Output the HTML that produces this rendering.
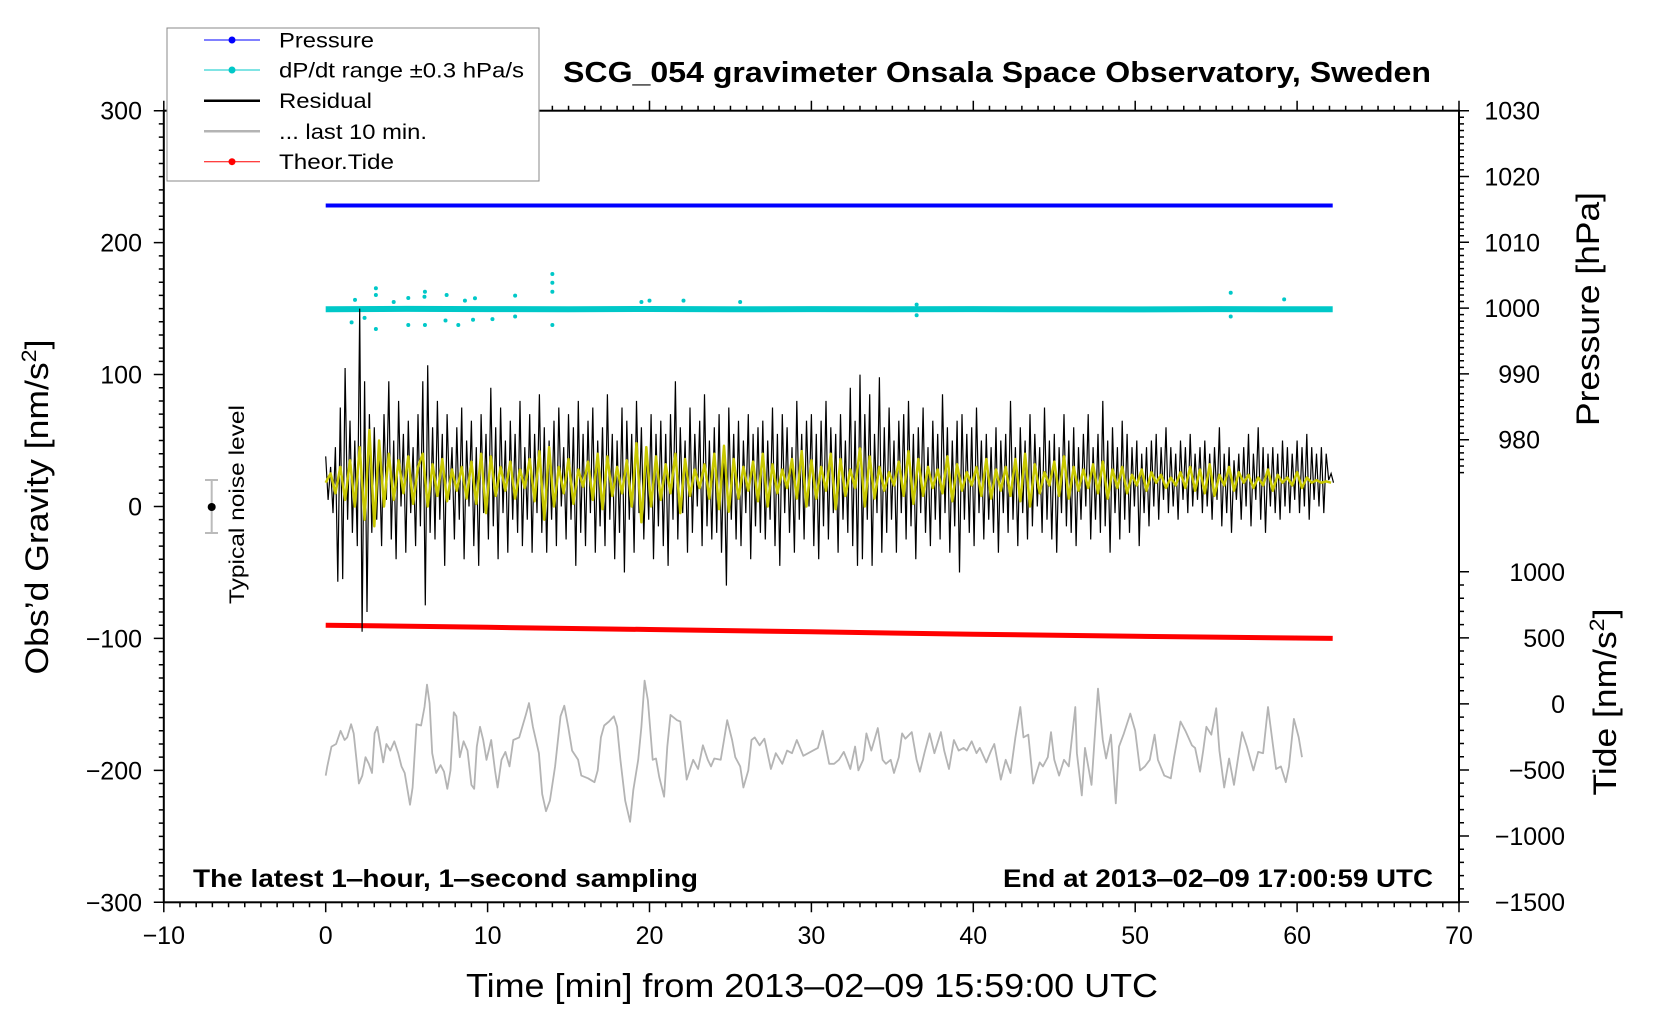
<!DOCTYPE html>
<html><head><meta charset="utf-8"><title>SCG_054 gravimeter</title>
<style>
html,body{margin:0;padding:0;background:#fff;}
svg{display:block;font-family:"Liberation Sans",Arial,sans-serif;}
</style></head>
<body>
<svg id="chart" width="1660" height="1020" viewBox="0 0 1660 1020" xmlns="http://www.w3.org/2000/svg">
<rect x="0" y="0" width="1660" height="1020" fill="#fff"/>
<g id="series"></g>
<g id="axes"></g>
<rect x="163.8" y="110.7" width="1295.2" height="791.6" fill="none" stroke="#000" stroke-width="2"/>
<g>
<rect x="167" y="28" width="372" height="153" fill="#fff" stroke="#888" stroke-width="1"/>
<g><line x1="204" y1="40" x2="260" y2="40" stroke="#0000ff" stroke-width="1"/><circle cx="232" cy="40" r="3.5" fill="#0000ff"/><text x="279" y="47.5" font-size="21" textLength="95" lengthAdjust="spacingAndGlyphs">Pressure</text></g>
<g><line x1="204" y1="70" x2="260" y2="70" stroke="#00c8c8" stroke-width="1"/><circle cx="232" cy="70" r="3.5" fill="#00c8c8"/><text x="279" y="77.5" font-size="21" textLength="245" lengthAdjust="spacingAndGlyphs">dP/dt range ±0.3 hPa/s</text></g>
<g><line x1="204" y1="100.7" x2="260" y2="100.7" stroke="#000" stroke-width="2.5"/><text x="279" y="108.2" font-size="21" textLength="93" lengthAdjust="spacingAndGlyphs">Residual</text></g>
<g><line x1="204" y1="131.3" x2="260" y2="131.3" stroke="#b4b4b4" stroke-width="2.5"/><text x="279" y="138.8" font-size="21" textLength="148" lengthAdjust="spacingAndGlyphs">... last 10 min.</text></g>
<g><line x1="204" y1="161.7" x2="260" y2="161.7" stroke="#ff0000" stroke-width="1"/><circle cx="232" cy="161.7" r="3.5" fill="#ff0000"/><text x="279" y="169.2" font-size="21" textLength="115" lengthAdjust="spacingAndGlyphs">Theor.Tide</text></g>
</g>
<text x="563" y="82" font-size="29" font-weight="bold" textLength="868" lengthAdjust="spacingAndGlyphs">SCG_054 gravimeter Onsala Space Observatory, Sweden</text>
<text x="193" y="887" font-size="25" font-weight="bold" textLength="505" lengthAdjust="spacingAndGlyphs">The latest 1‒hour, 1‒second sampling</text>
<text x="1003" y="887" font-size="25" font-weight="bold" textLength="430" lengthAdjust="spacingAndGlyphs">End at 2013‒02‒09 17:00:59 UTC</text>
<text x="466" y="997" font-size="33" textLength="692" lengthAdjust="spacingAndGlyphs">Time [min] from 2013‒02‒09 15:59:00 UTC</text>
<text transform="translate(48,507) rotate(-90)" text-anchor="middle" font-size="32" textLength="335" lengthAdjust="spacingAndGlyphs">Obs’d Gravity [nm/s<tspan dy="-12" font-size="21">2</tspan><tspan dy="12">]</tspan></text>
<text transform="translate(1599,309) rotate(-90)" text-anchor="middle" font-size="32" textLength="234" lengthAdjust="spacingAndGlyphs">Pressure [hPa]</text>
<text transform="translate(1616,702) rotate(-90)" text-anchor="middle" font-size="32" textLength="187" lengthAdjust="spacingAndGlyphs">Tide [nm/s<tspan dy="-12" font-size="21">2</tspan><tspan dy="12">]</tspan></text>
<g>
<line x1="211.7" y1="480" x2="211.7" y2="533" stroke="#bbb" stroke-width="2"/>
<line x1="205" y1="480" x2="218" y2="480" stroke="#bbb" stroke-width="2"/>
<line x1="205" y1="533" x2="218" y2="533" stroke="#bbb" stroke-width="2"/>
<circle cx="211.7" cy="507" r="4" fill="#000"/>
<text transform="translate(244,504.5) rotate(-90)" text-anchor="middle" font-size="21" textLength="199" lengthAdjust="spacingAndGlyphs">Typical noise level</text>
</g>
</svg>
<script>
// ---- data ----
const pressureTimes = [0, 62.2];
const pressureValues = [1015.6, 1015.6];
const tideTimes = [0, 10, 20, 30, 40, 50, 62.2];
const tideValues = [596, 580, 563, 546, 528, 512, 496];
const dpdtBandTimes = [0, 5, 10, 15, 20, 25, 30, 35, 40, 45, 50, 55, 62.2];
const dpdtBandValues = [149.5, 149.8, 149.6, 149.5, 149.7, 149.5, 149.6, 149.5, 149.6, 149.5, 149.4, 149.6, 149.5];
const dpdtOutlierTimes = [14.0, 14.0, 14.0, 14.0, 3.1, 3.1, 6.13, 6.1, 7.47, 9.22, 11.7, 5.1, 1.81, 3.1, 5.1, 6.13, 8.19, 1.6, 7.4, 22.1, 25.6, 19.5, 20.0, 11.7, 9.1, 55.9, 55.9, 59.2, 36.5, 36.5, 2.4, 4.2, 8.6, 10.3];
const dpdtOutlierValues = [176.2, 169.6, 162.8, 137.6, 165.4, 160.3, 162.8, 159, 160.3, 157.8, 159.8, 158, 156.6, 134.5, 137.6, 137.6, 137.6, 139.6, 141, 156, 155, 155, 156, 144, 141.5, 162, 144, 157, 153, 145, 143, 155, 156, 142];
const residualStep = 0.15;
const residualValues = [
38,5,30,-5,45,-57,75,-55,105,-10,65,-20,50,-30,150,-95,95,-80,70,-20,
60,-10,45,-30,70,5,95,-25,50,-40,80,0,55,-35,65,-5,45,-30,70,-15,
95,-75,107,-20,60,-25,80,-10,55,-45,70,5,45,-25,60,-10,75,-40,50,0,
65,-30,45,-45,70,-5,55,-25,90,-15,60,-40,75,-5,50,-35,65,-10,55,-20,
80,-30,45,-10,70,-35,55,-5,85,-20,60,-35,50,-10,65,-30,75,0,45,-25,
70,-10,60,-45,80,-20,55,-30,65,-5,75,-35,50,-15,60,-30,85,-10,55,-40,
50,-20,75,-50,65,-10,55,-35,80,-5,60,-25,45,-10,70,-40,55,-15,65,-30,
55,-45,70,-10,95,-25,60,-5,50,-35,75,-20,55,0,65,-30,85,-15,50,-25,
60,-20,70,-35,45,-60,75,-10,55,-25,65,-30,50,-5,70,-40,55,-15,60,-20,
65,-25,50,-10,75,-30,55,-45,70,-5,60,-20,45,-35,80,-10,55,-25,65,0,
70,-30,55,-40,65,-15,80,-25,60,-5,55,-35,70,-10,50,-20,90,-30,65,-45,
100,-40,70,-10,85,-45,55,-5,98,-35,60,-20,75,-10,50,-35,65,-5,70,-25,
80,-15,55,-40,60,-5,75,-20,45,-30,65,-10,55,-25,85,-5,60,-35,50,-15,
65,-50,70,-10,55,-20,60,-30,75,-5,50,-25,55,-10,45,-20,60,-35,50,-5,
55,-20,80,-10,45,-30,60,-5,50,-25,70,-15,55,0,45,-20,75,-10,50,-25,
55,-35,45,-5,70,-15,50,-20,60,-30,45,-10,55,0,70,-25,45,-10,55,-20,
80,-15,50,-35,60,-5,45,-25,65,-10,55,-20,45,0,50,-30,40,-5,45,-15,
50,0,55,-10,45,5,60,-5,45,0,40,-10,50,5,45,-5,55,0,40,5,
45,-5,50,0,40,-10,45,5,60,-15,40,-5,45,-20,35,5,40,-10,45,0,
55,-15,40,5,60,-10,45,-20,40,0,45,-5,40,-10,50,0,45,-5,40,5,
50,-5,45,0,55,-10,45,5,40,0,45,-5,40,20,25,18];
const smoothStep = 0.3;
const smoothValues = [
18,25,10,30,5,35,0,45,-10,58,-15,50,0,40,5,35,10,38,2,30,
40,0,32,8,36,4,28,12,30,6,34,2,40,-5,38,8,30,12,34,6,
28,14,36,4,42,-10,45,0,30,10,36,2,28,15,34,5,40,-2,38,8,
30,10,35,0,48,-12,45,0,38,5,32,10,40,-5,36,8,28,14,32,6,
40,-2,46,-4,36,6,30,12,34,4,40,0,32,10,28,14,36,6,42,0,
35,6,30,12,40,-2,36,8,28,14,44,0,38,6,30,12,26,16,34,8,
42,2,36,8,30,14,28,10,38,4,32,12,26,16,30,8,36,6,28,12,
30,8,36,4,40,0,32,10,26,16,34,8,38,6,30,12,28,14,32,10,
34,6,28,14,30,10,24,16,28,12,26,18,24,14,22,16,26,14,30,12,
28,10,32,8,24,16,30,12,26,18,24,14,22,16,28,12,24,18,22,16,
26,14,22,18,20,18,19,18];
const last10Times = [0.0,0.1,0.36,0.64,0.92,1.17,1.33,1.57,1.73,1.93,2.05,2.26,2.46,2.66,2.86,3.02,3.19,3.39,3.55,3.75,3.99,4.24,4.48,4.68,4.88,5.21,5.37,5.61,5.89,6.1,6.26,6.42,6.58,6.82,7.1,7.31,7.51,7.71,7.91,8.07,8.28,8.52,8.76,9.0,9.17,9.33,9.53,9.73,9.93,10.22,10.46,10.62,10.86,11.1,11.35,11.59,11.95,12.36,12.56,12.8,13.17,13.37,13.61,13.85,14.17,14.5,14.74,14.98,15.22,15.59,15.79,16.2,16.6,16.8,17.0,17.2,17.5,17.8,18.0,18.2,18.5,18.8,19.0,19.3,19.5,19.7,19.9,20.2,20.4,20.6,20.9,21.1,21.3,21.7,21.9,22.1,22.3,22.7,23.0,23.3,23.6,23.8,24.0,24.4,24.6,24.8,25.1,25.3,25.6,25.8,26.1,26.3,26.5,26.8,27.1,27.5,27.8,28.2,28.5,28.8,29.1,29.5,29.8,30.1,30.4,30.7,31.1,31.4,31.7,32.0,32.2,32.4,32.7,32.9,33.2,33.4,33.7,34.1,34.4,34.6,34.9,35.1,35.4,35.6,35.8,36.2,36.5,36.7,37.0,37.3,37.6,38.0,38.2,38.5,38.8,39.1,39.4,39.6,39.9,40.2,40.4,40.8,41.1,41.3,41.7,42.0,42.3,42.6,42.9,43.1,43.4,43.7,44.1,44.3,44.6,44.8,45.0,45.3,45.6,45.9,46.3,46.4,46.7,46.9,47.3,47.7,48.0,48.2,48.5,48.8,49.0,49.3,49.7,50.0,50.3,50.6,50.9,51.2,51.4,51.8,52.2,52.4,52.8,53.1,53.5,53.7,54.0,54.2,54.4,54.7,55.0,55.2,55.5,55.8,56.1,56.4,56.6,56.9,57.3,57.6,57.9,58.2,58.5,58.7,59.0,59.3,59.5,59.8,60.1,60.3];
const last10Values = [-204,-197,-182,-180,-170,-177,-175,-165,-172,-195,-210,-204,-190,-195,-202,-172,-167,-182,-194,-180,-185,-178,-187,-197,-202,-226,-213,-165,-166,-152,-135,-149,-187,-202,-196,-201,-214,-200,-156,-159,-190,-178,-185,-211,-214,-182,-167,-177,-192,-177,-200,-213,-192,-186,-197,-177,-175,-158,-149,-167,-187,-218,-231,-223,-197,-159,-151,-167,-185,-192,-204,-206,-209,-200,-175,-166,-163,-159,-167,-192,-223,-239,-215,-192,-167,-132,-147,-192,-191,-205,-220,-182,-158,-162,-163,-185,-207,-192,-199,-181,-192,-197,-191,-192,-177,-162,-177,-190,-197,-213,-200,-177,-175,-181,-176,-199,-187,-195,-185,-187,-177,-189,-187,-185,-183,-170,-195,-195,-192,-186,-192,-199,-182,-200,-192,-172,-185,-168,-192,-195,-192,-202,-190,-172,-176,-171,-192,-201,-186,-172,-187,-171,-185,-199,-177,-185,-183,-185,-178,-187,-183,-194,-185,-180,-207,-192,-202,-175,-152,-175,-173,-210,-194,-197,-190,-171,-192,-204,-192,-197,-152,-187,-219,-183,-211,-138,-177,-191,-173,-225,-182,-172,-157,-170,-200,-197,-192,-173,-192,-204,-206,-190,-163,-170,-181,-183,-201,-185,-167,-173,-153,-185,-213,-191,-211,-187,-171,-182,-200,-186,-187,-152,-180,-199,-197,-209,-197,-161,-175,-190];
const xTickLabels = ["−10","0","10","20","30","40","50","60","70"];
const gravityTickLabels = ["300","200","100","0","−100","−200","−300"];
const pressureTickLabels = ["1030","1020","1010","1000","990","980"];
const tideTickLabels = ["1000","500","0","−500","−1000","−1500"];

// ---- scales ----
const NS = "http://www.w3.org/2000/svg";
function xScale(t){ return 325.7 + 16.19 * t; }
function gScale(g){ return 110.7 + (300 - g) * 1.3193; }
function pScale(p){ return 110.7 + (1030 - p) * 6.58; }
function tideScale(v){ return 571.8 + (1000 - v) * 0.1321; }
function parseNum(s){ return parseFloat(s.replace("−","-")); }

const series = document.getElementById("series");
const axes = document.getElementById("axes");

function mk(tag, attrs, parent){
  const e = document.createElementNS(NS, tag);
  for (const k in attrs) e.setAttribute(k, attrs[k]);
  parent.appendChild(e);
  return e;
}
function ptsStr(ts, vs, sc){
  const n = Math.min(ts.length, vs.length);
  let s = [];
  for (let i = 0; i < n; i++) s.push(xScale(ts[i]).toFixed(1) + "," + sc(vs[i]).toFixed(1));
  return s.join(" ");
}

// last 10 min (gray)
const grayLine = mk("polyline", {points: ptsStr(last10Times, last10Values, gScale), fill: "none", stroke: "#b4b4b4", "stroke-width": 1.8, "stroke-linejoin": "round"}, series);



// tide (red)
const tideLine = mk("polyline", {points: ptsStr(tideTimes, tideValues, tideScale), fill: "none", stroke: "#ff0000", "stroke-width": 5}, series);



// pressure (blue)
const presLine = mk("polyline", {points: ptsStr(pressureTimes, pressureValues, pScale), fill: "none", stroke: "#0000ff", "stroke-width": 4}, series);



// dP/dt band (cyan)
const band = mk("polyline", {points: ptsStr(dpdtBandTimes, dpdtBandValues, gScale), fill: "none", stroke: "#00c8c8", "stroke-width": 6}, series);


const outG = mk("g", {}, series);


for (let i = 0; i < Math.min(dpdtOutlierTimes.length, dpdtOutlierValues.length); i++){
  const c = mk("circle", {cx: xScale(dpdtOutlierTimes[i]), cy: gScale(dpdtOutlierValues[i]), r: 2, fill: "#00c8c8"}, outG);
  
  
}

// residual (black)
const resTimes = residualValues.map((v, i) => i * residualStep);
const resLine = mk("polyline", {points: ptsStr(resTimes, residualValues, gScale), fill: "none", stroke: "#000", "stroke-width": 1.2, "stroke-linejoin": "miter"}, series);



// smoothed (yellow)
const smTimes = smoothValues.map((v, i) => i * smoothStep);
const smLine = mk("polyline", {points: ptsStr(smTimes, smoothValues, gScale), fill: "none", stroke: "#c8c800", "stroke-width": 2.5, "stroke-linejoin": "round"}, series);



// ---- axes ----
const L = 163.8, R = 1459, T = 110.7, B = 902.3;
let tickPath = "";
for (let m = -10; m <= 70; m++){
  const x = xScale(m);
  const len = (m % 10 === 0) ? 10 : 5;
  tickPath += "M" + x + "," + B + "v" + len + "M" + x + "," + T + "v" + (-len);
}
for (let g = -300; g <= 300; g += 10){
  const y = gScale(g);
  const len = (g % 100 === 0) ? 10 : 5;
  tickPath += "M" + L + "," + y + "h" + (-len);
}
for (let p = 1030; p >= 975; p--){
  const y = pScale(p);
  const len = (p % 10 === 0) ? 10 : 5;
  tickPath += "M" + R + "," + y + "h" + len;
}
for (let v = 1000; v >= -1500; v -= 100){
  const y = tideScale(v);
  const len = (v % 500 === 0) ? 10 : 5;
  tickPath += "M" + R + "," + y + "h" + len;
}
const ticks = mk("path", {d: tickPath, stroke: "#000", "stroke-width": 1.5, fill: "none"}, axes);



xTickLabels.forEach(function(s){
  const t = mk("text", {x: xScale(parseNum(s)), y: 944, "font-size": 25, "text-anchor": "middle"}, axes);
  t.textContent = s;
  
  
});
gravityTickLabels.forEach(function(s){
  const t = mk("text", {x: 142, y: gScale(parseNum(s)) + 9, "font-size": 25, "text-anchor": "end"}, axes);
  t.textContent = s;
  
  
});
pressureTickLabels.forEach(function(s){
  const t = mk("text", {x: 1540, y: pScale(parseNum(s)) + 9, "font-size": 25, "text-anchor": "end"}, axes);
  t.textContent = s;
  
  
});
tideTickLabels.forEach(function(s){
  const t = mk("text", {x: 1565, y: tideScale(parseNum(s)) + 9, "font-size": 25, "text-anchor": "end"}, axes);
  t.textContent = s;
  
  
});
</script>
</body></html>
